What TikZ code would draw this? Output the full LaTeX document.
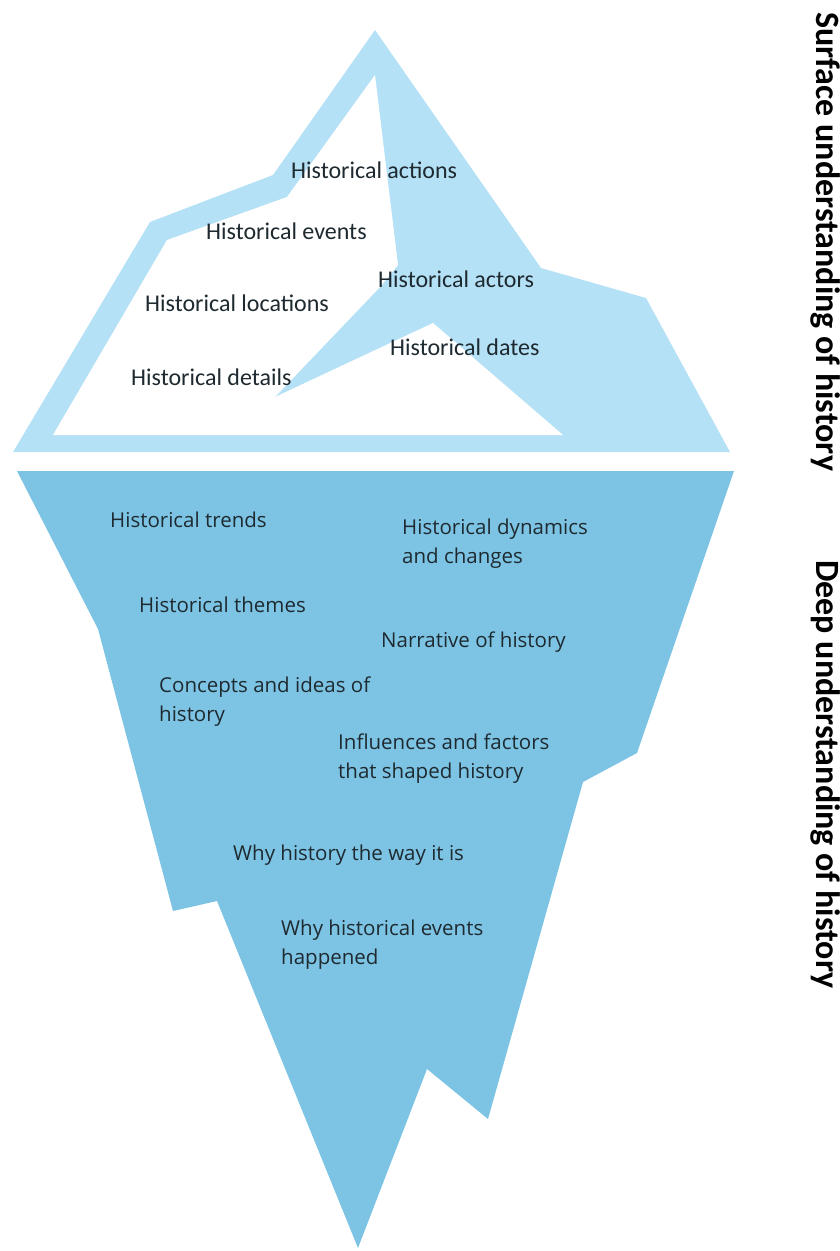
\documentclass[tikz,border=0pt]{standalone}
\usepackage{fontspec}
\setmainfont{Carlito}
\newfontfamily\deepfont{Open Sans}
\usepackage{tikz}
\usetikzlibrary{positioning}
\definecolor{icelight}{HTML}{B5E1F6}
\definecolor{icedeep}{HTML}{7DC4E4}
\definecolor{icetext}{HTML}{1E2A30}

\begin{document}
\begin{tikzpicture}[x=1pt,y=-1pt,
  top/.style={anchor=west,inner sep=0pt,text=icetext,font=\fontsize{24}{28}\selectfont},
  deep/.style={anchor=west,inner sep=0pt,text=icetext,align=left,font=\deepfont\fontsize{20.5}{29}\selectfont},
  side/.style={rotate=-90,anchor=base west,inner sep=0pt,text=black,font=\bfseries\fontsize{34}{36}\selectfont}]
\useasboundingbox (0,0) rectangle (840,1251);
\fill[icelight] (375,30) -- (541,268) -- (646,298) -- (730,452) -- (13,452) -- (150,222) -- (273,175) -- cycle;
\fill[white] (375,75) -- (398,265) -- (381,286) -- (275,397) -- (433,323) -- (563,435) -- (53,435) -- (167,240) -- (287,197) -- cycle;
\fill[icedeep] (17,471) -- (734,471) -- (637,753) -- (583,782) -- (488,1119) -- (427,1069) -- (358,1248) -- (217,901) -- (173,911) -- (98,629) -- cycle;
\node[top] (1) at (291,170) {Historical actions};
\node[top] (2) at (206,231) {Historical events};
\node[top] (3) at (378,279) {Historical actors};
\node[top] (4) at (145,303) {Historical locations};
\node[top] (5) at (390,347) {Historical dates};
\node[top] (6) at (131,377) {Historical details};
\node[deep] (7) at (110,520) {Historical trends};
\node[deep] (8) at (402,544) {Historical dynamics\\and changes};
\node[deep] (9) at (139,605) {Historical themes};
\node[deep] (10) at (381,642) {Narrative of history};
\node[deep] (11) at (159,702) {Concepts and ideas of\\history};
\node[deep] (12) at (338,759) {Influences and factors\\that shaped history};
\node[deep] (13) at (233,855) {Why history the way it is};
\node[deep] (14) at (281,945) {Why historical events\\happened};
\node[side] (15) at (816,12) {Surface understanding of history};
\node[side] (16) at (816,560) {Deep understanding of history};
\end{tikzpicture}
\end{document}
